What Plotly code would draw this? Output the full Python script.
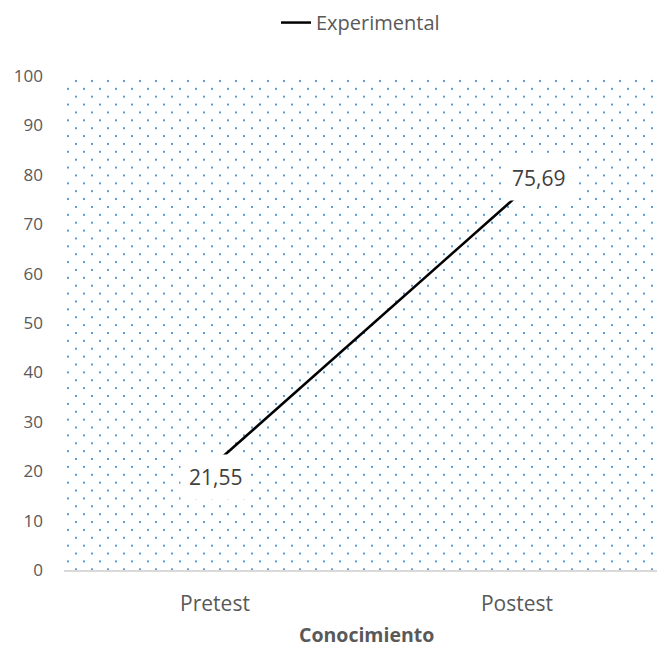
import base64
import plotly.graph_objects as go

# Data
categories = ["Pretest", "Postest"]
experimental = [21.55, 75.69]
series_name = "Experimental"
axis_title = "Conocimiento"
y_ticks = list(range(0, 101, 10))

FONT = "Open Sans"
TICK_COLOR = "#595959"
LABEL_COLOR = "#404040"
DOT_COLOR = "#5B9BD5"

# Figure geometry (pixels)
W, H = 657, 648
M_L, M_R, M_T, M_B = 64, 0, 75.5, 78
PLOT_W = W - M_L - M_R
PLOT_H = H - M_T - M_B

x_pos = list(range(len(categories)))
x_range = [-0.5, 1.4636]
y_range = [0, 100]


def dotted_texture(w, h, color):
    """Staggered dot texture used as the plot-area fill."""
    tw, th = 16, 15.77
    svg = (
        f"<svg xmlns='http://www.w3.org/2000/svg' width='{w}' height='{h}' "
        f"viewBox='0 0 {w} {h}'>"
        f"<defs><pattern id='d' x='0' y='0' width='{tw}' height='{th}' "
        f"patternUnits='userSpaceOnUse'>"
        f"<rect x='11' y='4.2' width='2' height='2' fill='{color}' shape-rendering='crispEdges'/>"
        f"<rect x='3' y='12.1' width='2' height='2' fill='{color}' shape-rendering='crispEdges'/>"
        f"</pattern></defs>"
        f"<rect width='{w}' height='{h}' fill='url(#d)'/></svg>"
    )
    return "data:image/svg+xml;base64," + base64.b64encode(svg.encode()).decode()


fig = go.Figure()

# Experimental series
fig.add_trace(go.Scatter(
    x=x_pos,
    y=experimental,
    mode="lines",
    name=series_name,
    line=dict(color="black", width=2.5),
))


def fmt(v):
    return f"{v:.2f}".replace(".", ",")


# Value labels with a white box over the line end points
label_shifts = [(0, -13.5), (22, 18)]
for xi, v, (dx, dy) in zip(x_pos, experimental, label_shifts):
    fig.add_annotation(
        x=xi, y=v, text=fmt(v), showarrow=False,
        xshift=dx, yshift=dy,
        font=dict(family=FONT, size=21, color=LABEL_COLOR),
        bgcolor="white", borderpad=8,
    )

# Category axis title, centred between the two categories
fig.add_annotation(
    x=(x_pos[0] + x_pos[-1]) / 2, xref="x",
    y=0, yref="paper", yshift=-64, yanchor="middle",
    text="<b>" + axis_title + "</b>", showarrow=False,
    font=dict(family=FONT, size=19.5, color=TICK_COLOR),
    borderpad=0,
)

fig.update_layout(
    width=W, height=H,
    margin=dict(l=M_L, r=M_R, t=M_T, b=M_B),
    paper_bgcolor="white",
    plot_bgcolor="white",
    font=dict(family=FONT, size=17, color=TICK_COLOR),
    showlegend=True,
    legend=dict(
        orientation="h", x=0.5, xanchor="center",
        y=1 + (M_T - 22) / PLOT_H, yanchor="middle",
        font=dict(family=FONT, size=20, color=TICK_COLOR),
        bgcolor="rgba(0,0,0,0)",
    ),
    images=[dict(
        source=dotted_texture(PLOT_W, PLOT_H, DOT_COLOR),
        xref="paper", yref="paper", x=0, y=1, sizex=1, sizey=1,
        xanchor="left", yanchor="top", sizing="stretch", layer="below",
    )],
)

fig.update_xaxes(
    range=x_range,
    tickmode="array", tickvals=x_pos, ticktext=categories,
    showgrid=False, zeroline=False,
    showline=True, linecolor="#D9D9D9", linewidth=2,
    ticks="", ticklabelstandoff=14,
    tickfont=dict(family=FONT, size=21, color=TICK_COLOR),
)
fig.update_yaxes(
    range=y_range,
    tickmode="array", tickvals=y_ticks,
    showgrid=False, zeroline=False, showline=False,
    ticks="", ticklabelstandoff=20,
    tickfont=dict(family=FONT, size=17, color=TICK_COLOR),
)

fig.write_html("out.html")
